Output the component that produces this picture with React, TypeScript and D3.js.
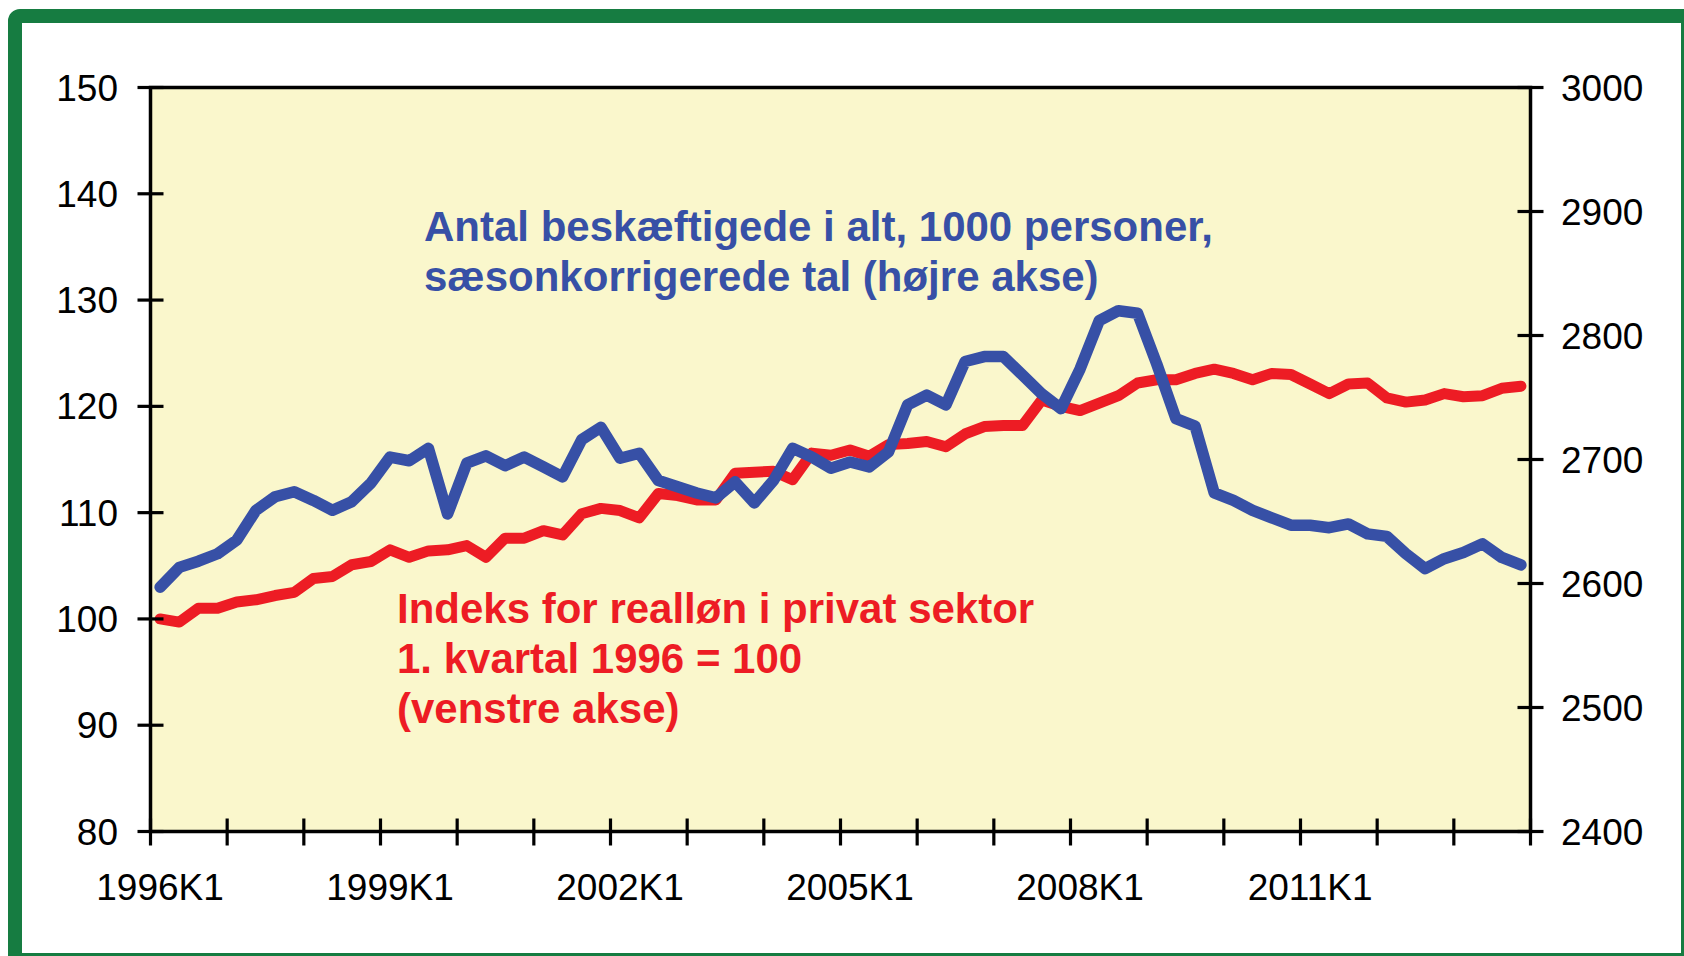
import React from "react";
import * as d3 from "d3";

// ---- Data ----
const years = d3.range(1996, 2014);
const quarters = [1, 2, 3, 4];
const categories: string[] = years.flatMap((y) => quarters.map((q) => `${y}K${q}`));

const tickLabels = ["1996K1", "1999K1", "2002K1", "2005K1", "2008K1", "2011K1"];
const leftTicks = [80, 90, 100, 110, 120, 130, 140, 150];
const rightTicks = [2400, 2500, 2600, 2700, 2800, 2900, 3000];

// Indeks for realløn i privat sektor (venstre akse)
const realWage = [
  100.0, 99.7, 101.0, 101.0, 101.6, 101.8, 102.2, 102.5,
  103.8, 104.0, 105.1, 105.4, 106.5, 105.8, 106.4, 106.5,
  106.9, 105.8, 107.6, 107.6, 108.3, 107.9, 109.9, 110.4,
  110.2, 109.5, 111.8, 111.6, 111.2, 111.2, 113.7, 113.8,
  113.9, 113.1, 115.6, 115.4, 115.9, 115.3, 116.4, 116.5,
  116.7, 116.2, 117.4, 118.1, 118.2, 118.2, 120.6, 120.0,
  119.6, 120.3, 121.0, 122.2, 122.5, 122.5, 123.1, 123.5,
  123.1, 122.5, 123.1, 123.0, 122.1, 121.2, 122.1, 122.2,
  120.8, 120.4, 120.6, 121.2, 120.9, 121.0, 121.7, 121.9,
];

// Antal beskæftigede i alt, 1000 personer (højre akse)
const employed = [
  2597, 2613, 2618, 2624, 2635, 2659, 2670, 2674,
  2667, 2659, 2666, 2681, 2702, 2699, 2709, 2656,
  2697, 2703, 2695, 2702, 2694, 2686, 2716, 2726,
  2701, 2705, 2683, 2678, 2673, 2669, 2682, 2665,
  2683, 2709, 2702, 2693, 2698, 2694, 2706, 2744,
  2752, 2744, 2779, 2783, 2783, 2768, 2753, 2741,
  2773, 2812, 2820, 2818, 2777, 2733, 2727, 2673,
  2667, 2659, 2653, 2647, 2647, 2645, 2648, 2640,
  2638, 2624, 2612, 2620, 2625, 2632, 2621, 2615,
];

const blueText = ["Antal beskæftigede i alt, 1000 personer,", "sæsonkorrigerede tal (højre akse)"];
const redText = ["Indeks for realløn i privat sektor", "1. kvartal 1996 = 100", "(venstre akse)"];

// ---- Layout ----
const W = 1684;
const H = 956;
const left = 150.5;
const right = 1530.5;
const top = 87.5;
const bottom = 831.5;

const BLUE = "#3750A6";
const RED = "#ED1C24";
const GREEN = "#167C41";
const BG = "#FAF7CC";
const FONT = "'Liberation Sans', Arial, Helvetica, sans-serif";

export default function App() {
  const x = d3.scaleBand<string>().domain(categories).range([left, right]);
  const bw = x.bandwidth();
  const cx = (c: string) => (x(c) as number) + bw / 2;
  const yL = d3.scaleLinear().domain([80, 150]).range([bottom, top]);
  const yR = d3.scaleLinear().domain([2400, 3000]).range([bottom, top]);

  const redLine = d3
    .line<number>()
    .x((_, i) => cx(categories[i]))
    .y((d) => yL(d))(realWage) as string;
  const blueLine = d3
    .line<number>()
    .x((_, i) => cx(categories[i]))
    .y((d) => yR(d))(employed) as string;

  const xTickPos = categories
    .filter((_, i) => i % 4 === 0)
    .map((c) => x(c) as number)
    .concat([right]);

  return (
    <div style={{ position: "fixed", left: 0, top: 0, width: W, height: H, overflow: "hidden" }}>
      <svg width={W} height={H} style={{ display: "block" }}>
        <rect x={0} y={0} width={W} height={H} fill="#ffffff" />
        {/* frame */}
        <rect x={15} y={16} width={1673} height={944} rx={5} fill="#ffffff" stroke={GREEN} strokeWidth={14} />
        {/* plot area */}
        <rect x={left} y={top} width={right - left} height={bottom - top} fill={BG} />

        {/* annotations */}
        <g fontFamily={FONT} fontWeight="bold" fontSize={42}>
          {blueText.map((t, i) => (
            <text key={t} x={424} y={241 + i * 49.5} fill={BLUE}>
              {t}
            </text>
          ))}
          {redText.map((t, i) => (
            <text key={t} x={397} y={623 + i * 50} fill={RED}>
              {t}
            </text>
          ))}
        </g>

        {/* lines */}
        <path d={redLine} fill="none" stroke={RED} strokeWidth={11} strokeLinejoin="round" strokeLinecap="round" />
        <path d={blueLine} fill="none" stroke={BLUE} strokeWidth={11.5} strokeLinejoin="round" strokeLinecap="round" />

        {/* axes / border */}
        <rect x={left} y={top} width={right - left} height={bottom - top} fill="none" stroke="#000" strokeWidth={3.5} />
        <g stroke="#000" strokeWidth={3.2}>
          {leftTicks.map((v) => (
            <line key={"l" + v} x1={left - 13} x2={left + 13} y1={yL(v)} y2={yL(v)} />
          ))}
          {rightTicks.map((v) => (
            <line key={"r" + v} x1={right - 13} x2={right + 13} y1={yR(v)} y2={yR(v)} />
          ))}
          {xTickPos.map((p, i) => (
            <line key={"x" + i} x1={p} x2={p} y1={bottom - 13} y2={bottom + 14} />
          ))}
        </g>

        <g fontFamily={FONT} fontSize={37} fill="#000">
          {leftTicks.map((v) => (
            <text key={"lt" + v} x={118} y={yL(v) + 13} textAnchor="end">
              {v}
            </text>
          ))}
          {rightTicks.map((v) => (
            <text key={"rt" + v} x={1561} y={yR(v) + 13} textAnchor="start">
              {v}
            </text>
          ))}
          {tickLabels.map((c) => (
            <text key={c} x={cx(c)} y={900} textAnchor="middle">
              {c}
            </text>
          ))}
        </g>
      </svg>
    </div>
  );
}
